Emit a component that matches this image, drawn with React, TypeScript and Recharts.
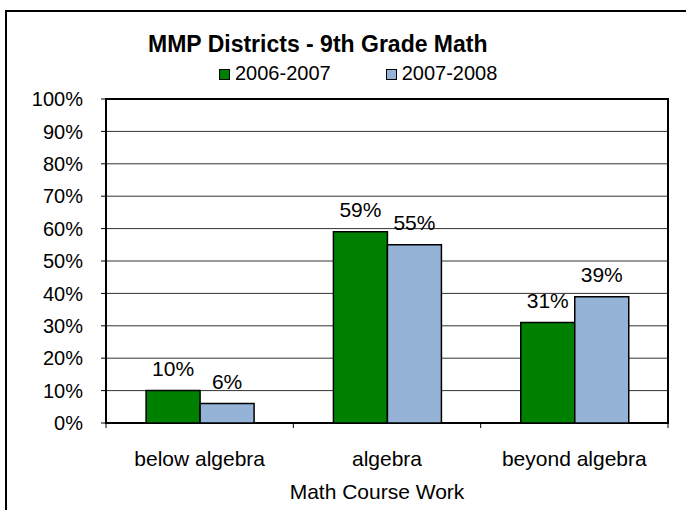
import { BarChart, Bar, XAxis, YAxis, CartesianGrid, Legend, LabelList, ReferenceArea } from "recharts";

const categories = ["below algebra", "algebra", "beyond algebra"];
const series2007 = [10, 59, 31];
const series2008 = [6, 55, 39];
const seriesNames = ["2006-2007", "2007-2008"];
const yTicks = [0, 10, 20, 30, 40, 50, 60, 70, 80, 90, 100];

const data = categories.map((name, i) => ({
  name,
  a: series2007[i],
  b: series2008[i],
}));

const FONT = '"Liberation Sans", Arial, sans-serif';
const CHART_W = 686;
const CHART_H = 510;
const Y_AXIS_W = 90;
const margin = { top: 99, right: 18, bottom: 7, left: 16 };
const PLOT_W = CHART_W - margin.left - margin.right - Y_AXIS_W;
const halfBand = PLOT_W / categories.length / 2;

const CategoryTick = (props: any) => {
  const { x, y, payload, index } = props;
  return (
    <g>
      <line x1={x - halfBand} x2={x - halfBand} y1={y} y2={y + 5} stroke="#000" strokeWidth={1} />
      {index === categories.length - 1 && (
        <line x1={x + halfBand} x2={x + halfBand} y1={y} y2={y + 5} stroke="#000" strokeWidth={1} />
      )}
      <text x={x} y={y + 43} textAnchor="middle" fontSize={21} fontFamily={FONT} fill="#000">
        {payload.value}
      </text>
    </g>
  );
};

const renderLegend = (props: any) => {
  const { payload } = props;
  return (
    <div style={{ display: "flex", gap: 55, fontFamily: FONT, fontSize: 20, lineHeight: "20px", color: "#000" }}>
      {payload.map((entry: any) => (
        <div key={entry.value} style={{ whiteSpace: "nowrap" }}>
          <span
            style={{
              display: "inline-block",
              width: 9,
              height: 9,
              border: "1px solid #000",
              background: entry.color,
              marginRight: 5,
            }}
          />
          {entry.value}
        </div>
      ))}
    </div>
  );
};

export default function App() {
  return (
    <div
      style={{
        position: "absolute",
        left: 0,
        top: 0,
        width: CHART_W,
        height: CHART_H,
        overflow: "hidden",
        background: "#fff",
      }}
    >
      <div
        style={{
          position: "absolute",
          left: 5,
          top: 10,
          width: 700,
          height: 520,
          border: "2px solid #000",
        }}
      />
      <div
        style={{
          position: "absolute",
          left: 148,
          top: 33,
          fontFamily: FONT,
          fontWeight: "bold",
          fontSize: 23,
          lineHeight: "23px",
          whiteSpace: "nowrap",
          color: "#000",
        }}
      >
        MMP Districts - 9th Grade Math
      </div>
      <div style={{ position: "absolute", left: 0, top: 0 }}>
        <BarChart
          width={CHART_W}
          height={CHART_H}
          data={data}
          margin={margin}
          barGap={0}
          barCategoryGap="21.4%"
        >
          <CartesianGrid vertical={false} stroke="#333" strokeWidth={1} />
          <XAxis
            dataKey="name"
            height={80}
            interval={0}
            tickLine={false}
            axisLine={false}
            tickSize={0}
            tickMargin={0}
            tick={<CategoryTick />}
            label={{
              value: "Math Course Work",
              position: "insideBottom",
              offset: 4,
              dx: -10,
              fontSize: 21,
              fontFamily: FONT,
              fill: "#000",
            }}
          />
          <YAxis
            width={Y_AXIS_W}
            domain={[0, 100]}
            ticks={yTicks}
            interval={0}
            tickFormatter={(v: number) => `${v}%`}
            tick={{ fontSize: 20, fontFamily: FONT, fill: "#000" }}
            tickSize={5}
            tickMargin={18}
            tickLine={{ stroke: "#000" }}
            axisLine={false}
          />
          <Legend
            verticalAlign="middle"
            align="center"
            layout="horizontal"
            wrapperStyle={{ top: 63, left: 219, width: 320 }}
            content={renderLegend}
          />
          <Bar dataKey="a" name={seriesNames[0]} fill="#008000" stroke="#000" strokeWidth={1.5} isAnimationActive={false}>
            <LabelList
              dataKey="a"
              position="top"
              offset={15}
              formatter={(v: any) => `${v}%`}
              fontSize={21}
              fontFamily={FONT}
              fill="#000"
            />
          </Bar>
          <Bar dataKey="b" name={seriesNames[1]} fill="#95B3D7" stroke="#000" strokeWidth={1.5} isAnimationActive={false}>
            <LabelList
              dataKey="b"
              position="top"
              offset={15}
              formatter={(v: any) => `${v}%`}
              fontSize={21}
              fontFamily={FONT}
              fill="#000"
            />
          </Bar>
          <ReferenceArea y1={0} y2={100} fill="none" stroke="#000" strokeWidth={2} ifOverflow="visible" />
        </BarChart>
      </div>
    </div>
  );
}
